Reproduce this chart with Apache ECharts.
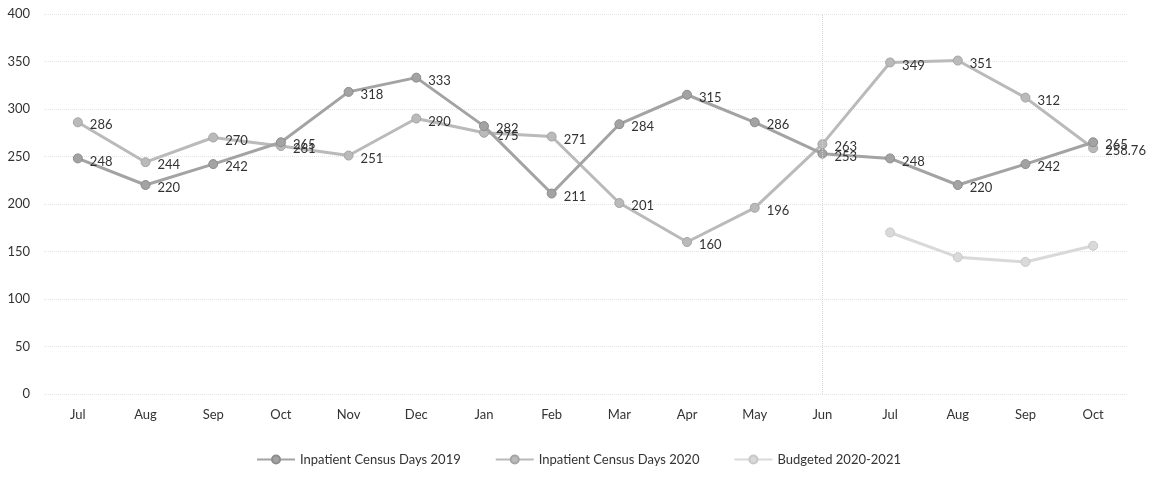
<!DOCTYPE html>
<html>
<head>
<meta charset="utf-8">
<script src="https://cdn.jsdelivr.net/npm/echarts@6/dist/echarts.min.js"></script>
<style>
html,body{margin:0;padding:0;background:#fff;}
#chart{width:1157px;height:477px;}
</style>
</head>
<body>
<div id="chart"></div>
<script>
const categories = ['Jul','Aug','Sep','Oct','Nov','Dec','Jan','Feb','Mar','Apr','May','Jun','Jul','Aug','Sep','Oct'];
const census2019 = [248,220,242,265,318,333,282,211,284,315,286,253,248,220,242,265];
const census2020 = [286,244,270,261,251,290,275,271,201,160,196,263,349,351,312,258.76];
const budgeted = [null,null,null,null,null,null,null,null,null,null,null,null,170,144,139,156];
const yTicks = [0,50,100,150,200,250,300,350,400];

const FONT = 'Lato, "Open Sans", sans-serif';
const chart = echarts.init(document.getElementById('chart'));

function lineSeries(name, data, color, border, showLabel, z) {
  return {
    name: name,
    type: 'line',
    data: data,
    z: z,
    symbol: 'circle',
    symbolSize: 9,
    connectNulls: false,
    lineStyle: {color: color, width: 3},
    itemStyle: {color: color, borderColor: border, borderWidth: 1},
    label: {
      show: showLabel,
      position: 'right',
      distance: 7,
      offset: [0, 3],
      color: '#333',
      fontFamily: FONT,
      fontSize: 13
    }
  };
}

const s2019 = lineSeries('Inpatient Census Days 2019', census2019, '#a3a3a3', '#8c8c8c', true, 3);
s2019.markLine = {
  silent: true,
  symbol: 'none',
  label: {show: false},
  lineStyle: {color: '#d4d4d4', type: 'dotted', width: 1},
  data: [{xAxis: 'Jun'}]
};

chart.setOption({
  animation: false,
  backgroundColor: '#fff',
  grid: {left: 44, right: 30, top: 14, bottom: 83, containLabel: false},
  legend: {
    bottom: 6,
    left: 'center',
    itemWidth: 38,
    itemHeight: 10,
    itemGap: 34,
    textStyle: {color: '#333', fontFamily: FONT, fontSize: 13},
    data: ['Inpatient Census Days 2019', 'Inpatient Census Days 2020', 'Budgeted 2020-2021']
  },
  xAxis: {
    type: 'category',
    data: categories,
    boundaryGap: true,
    axisLine: {show: false},
    axisTick: {show: false},
    axisLabel: {color: '#333', fontFamily: FONT, fontSize: 13, margin: 14}
  },
  yAxis: {
    type: 'value',
    min: yTicks[0],
    max: yTicks[yTicks.length - 1],
    interval: 50,
    axisLine: {show: false},
    axisTick: {show: false},
    axisLabel: {color: '#333', fontFamily: FONT, fontSize: 13, margin: 14},
    splitLine: {lineStyle: {color: '#e4e4e4', type: 'dotted', width: 1}}
  },
  series: [
    s2019,
    lineSeries('Inpatient Census Days 2020', census2020, '#bababa', '#a5a5a5', true, 2),
    lineSeries('Budgeted 2020-2021', budgeted, '#d9d9d9', '#c8c8c8', false, 1)
  ]
});
</script>
</body>
</html>
